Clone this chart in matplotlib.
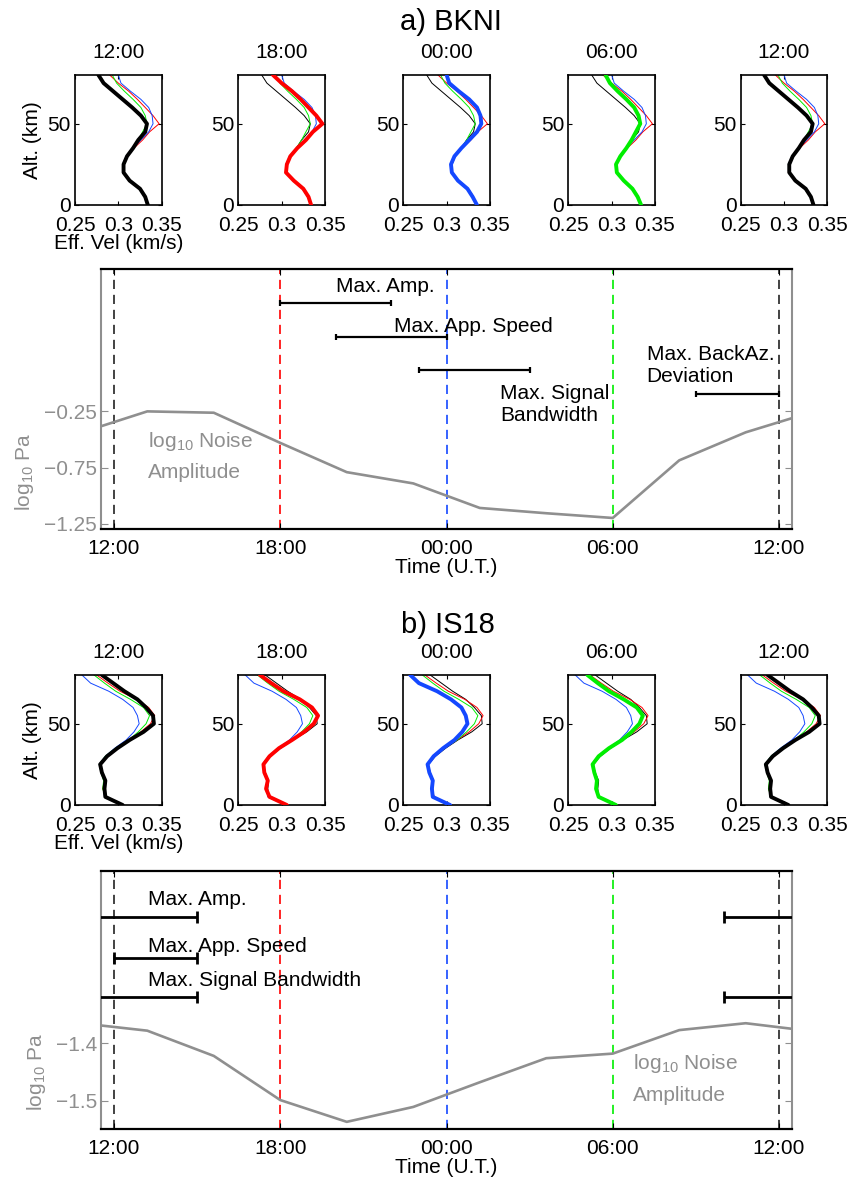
import matplotlib
matplotlib.use('Agg')
import matplotlib.pyplot as plt

plt.rcParams['font.family'] = ['Liberation Sans', 'DejaVu Sans']
plt.rcParams['mathtext.default'] = 'regular'

# ---------------- data ----------------
alt_km = [0, 5, 10, 15, 20, 25, 30, 35, 40, 45, 50, 55, 60, 65, 70, 75, 80]

bkni_12 = [0.334, 0.331, 0.325, 0.313, 0.306, 0.306, 0.310, 0.317, 0.323, 0.331, 0.333, 0.326, 0.316, 0.305, 0.294, 0.283, 0.277]
bkni_18 = [0.334, 0.331, 0.325, 0.314, 0.305, 0.306, 0.310, 0.318, 0.328, 0.336, 0.347, 0.340, 0.331, 0.322, 0.312, 0.300, 0.290]
bkni_00 = [0.335, 0.330, 0.324, 0.313, 0.306, 0.305, 0.309, 0.317, 0.326, 0.335, 0.340, 0.339, 0.335, 0.326, 0.314, 0.303, 0.300]
bkni_06 = [0.334, 0.330, 0.324, 0.314, 0.306, 0.305, 0.310, 0.317, 0.323, 0.328, 0.333, 0.331, 0.326, 0.317, 0.307, 0.298, 0.293]

is18_12 = [0.305, 0.285, 0.284, 0.285, 0.281, 0.279, 0.287, 0.299, 0.313, 0.329, 0.341, 0.340, 0.332, 0.322, 0.307, 0.294, 0.281]
is18_18 = [0.306, 0.286, 0.282, 0.284, 0.280, 0.279, 0.286, 0.297, 0.312, 0.326, 0.337, 0.342, 0.335, 0.321, 0.302, 0.288, 0.275]
is18_00 = [0.304, 0.284, 0.283, 0.284, 0.280, 0.278, 0.285, 0.296, 0.309, 0.318, 0.324, 0.322, 0.317, 0.305, 0.289, 0.268, 0.258]
is18_06 = [0.305, 0.285, 0.282, 0.283, 0.280, 0.278, 0.285, 0.297, 0.312, 0.323, 0.332, 0.336, 0.329, 0.314, 0.297, 0.284, 0.272]

panel_times = ['12:00', '18:00', '00:00', '06:00', '12:00']
panel_highlight = [0, 1, 2, 3, 0]   # index of profile drawn thick

noise_hours = [10.8, 13.2, 15.6, 18.0, 20.4, 22.8, 25.2, 27.6, 30.0, 32.4, 34.8, 37.2]
noise_bkni = [-0.44, -0.25, -0.262, -0.53, -0.79, -0.89, -1.108, -1.155, -1.197, -0.685, -0.436, -0.255]
noise_is18 = [-1.365, -1.378, -1.422, -1.499, -1.537, -1.511, -1.468, -1.426, -1.418, -1.377, -1.365, -1.379]

vline_hours = [12, 18, 24, 30, 36]
xtick_labels = ['12:00', '18:00', '00:00', '06:00', '12:00']

# bars: start hour, end hour, y value
bkni_bar_names = ['Max. Amp.', 'Max. App. Speed', 'Max. Signal Bandwidth', 'Max. BackAz. Deviation']
bkni_bar_start = [18.0, 20.0, 23.0, 33.0]
bkni_bar_end = [22.0, 24.0, 27.0, 36.0]
bkni_bar_y = [0.713, 0.41, 0.114, -0.093]

is18_bar_names = ['Max. Amp.', 'Max. App. Speed', 'Max. Signal Bandwidth']
is18_bar_start = [34.0, 12.0, 34.0]
is18_bar_end = [39.0, 15.0, 39.0]
is18_bar_y = [-1.18, -1.2506, -1.3197]

# ---------------- style ----------------
W, H = 851, 1182
fig = plt.figure(figsize=(W / 100, H / 100), dpi=100)

RED = '#ff0000'
BLUE = '#1448ff'
GREEN = '#00ee00'
BLACK = '#000000'
GRAY = '#8f8f8f'
prof_colors = [BLACK, RED, BLUE, GREEN]
line_colors = ['#222222', RED, BLUE, GREEN, '#222222']
FS = 15


def fx(px):
    return px / W


def fy(py):
    return 1 - py / H


small_lefts = [75, 238.3, 403.3, 568.3, 740.7]
small_w = 86.7


def small_panels(top_px, profiles):
    for i, left in enumerate(small_lefts):
        ax = fig.add_axes([fx(left), fy(top_px + 130), small_w / W, 130 / H])
        for c, prof in zip(prof_colors, profiles):
            ax.plot(prof, alt_km, color=c, lw=0.7, zorder=2)
        k = panel_highlight[i]
        ax.plot(profiles[k], alt_km, color=prof_colors[k], lw=2.8, zorder=3,
                solid_capstyle='round', solid_joinstyle='round')
        ax.set_xlim(0.25, 0.35)
        ax.set_ylim(0, 80)
        ax.set_xticks([0.25, 0.3, 0.35])
        ax.set_xticklabels(['0.25', '0.3', '0.35'])
        ax.set_yticks([0, 50])
        ax.tick_params(direction='in', top=True, right=True, length=3,
                       labelsize=FS, width=0.8)
        ax.tick_params(axis='x', pad=8)
        ax.tick_params(axis='y', pad=3)
        for s in ax.spines.values():
            s.set_linewidth(1.2)
        ax.set_title(panel_times[i], fontsize=FS, pad=12)
        if i == 0:
            ax.set_ylabel('Alt. (km)', fontsize=FS, labelpad=4)
            ax.set_xlabel('Eff. Vel (km/s)', fontsize=FS, labelpad=-1)


def main_panel(top_px, bottom_px, ylim, yticks, yticklabels, noise):
    ax = fig.add_axes([fx(101), fy(bottom_px), 691 / W, (bottom_px - top_px) / H])
    for h, c in zip(vline_hours, line_colors):
        ax.axvline(h, color=c, lw=1.2, ls=(0, (5.5, 3.5)), zorder=1)
    ax.plot(noise_hours, noise, color=GRAY, lw=1.9, zorder=3)
    ax.set_xlim(11.53, 36.47)
    ax.set_ylim(*ylim)
    ax.set_xticks(vline_hours)
    ax.set_xticklabels(xtick_labels)
    ax.set_yticks(yticks)
    ax.set_yticklabels(yticklabels)
    ax.tick_params(axis='x', direction='in', top=True, length=4, labelsize=FS, pad=7,
                   colors=BLACK)
    ax.tick_params(axis='y', direction='in', right=True, length=5, labelsize=FS, pad=3,
                   colors=GRAY, labelcolor=GRAY)
    ax.spines['top'].set_linewidth(1.6)
    ax.spines['bottom'].set_linewidth(1.6)
    ax.spines['left'].set_color(GRAY)
    ax.spines['right'].set_color(GRAY)
    ax.spines['left'].set_linewidth(1.5)
    ax.spines['right'].set_linewidth(1.5)
    ax.set_xlabel('Time (U.T.)', fontsize=FS, labelpad=0)
    return ax


def bar(ax, x0, x1, y, lw, ms):
    ax.plot([x0, x1], [y, y], color=BLACK, lw=lw, zorder=4, solid_capstyle='butt')
    ax.plot([x0, x1], [y, y], ls='none', marker='|', ms=ms, mew=lw, color=BLACK, zorder=4)


# ---- station a ----
fig.text(fx(451), fy(22), 'a) BKNI', fontsize=21, ha='center', va='center')
small_panels(75, [bkni_12, bkni_18, bkni_00, bkni_06])
axa = main_panel(269, 529, (-1.295, 1.015), [-1.25, -0.75, -0.25],
                 ['\u22121.25', '\u22120.75', '\u22120.25'], noise_bkni)
for s, e, y in zip(bkni_bar_start, bkni_bar_end, bkni_bar_y):
    bar(axa, s, e, y, 1.6, 4)
axa.text(20.0, 0.856, 'Max. Amp.', fontsize=FS, va='center', ha='left')
axa.text(22.11, 0.505, 'Max. App. Speed', fontsize=FS, va='center', ha='left')
axa.text(25.93, -0.19, 'Max. Signal\nBandwidth', fontsize=FS, va='center', ha='left',
         linespacing=1.2)
axa.text(31.22, 0.156, 'Max. BackAz.\nDeviation', fontsize=FS, va='center', ha='left',
         linespacing=1.2)
axa.text(13.21, -0.522, 'log$_{10}$ Noise', fontsize=FS, va='center', ha='left', color=GRAY)
axa.text(13.21, -0.79, 'Amplitude', fontsize=FS, va='center', ha='left', color=GRAY)
fig.text(fx(24), fy(472), 'log$_{10}$ Pa', fontsize=FS, rotation=90, ha='center',
         va='center', color=GRAY)

# ---- station b ----
fig.text(fx(448), fy(625), 'b) IS18', fontsize=21, ha='center', va='center')
small_panels(675, [is18_12, is18_18, is18_00, is18_06])
axb = main_panel(870.7, 1129.3, (-1.55, -1.099), [-1.5, -1.4],
                 ['\u22121.5', '\u22121.4'], noise_is18)
for s, e, y in zip(is18_bar_start, is18_bar_end, is18_bar_y):
    bar(axb, s, e, y, 2.0, 9)
    if e > 36.47:   # wraps around the day
        bar(axb, s - 24, e - 24, y, 2.0, 9)
axb.text(13.21, -1.15, 'Max. Amp.', fontsize=FS, va='center', ha='left')
axb.text(13.21, -1.2314, 'Max. App. Speed', fontsize=FS, va='center', ha='left')
axb.text(13.21, -1.2907, 'Max. Signal Bandwidth', fontsize=FS, va='center', ha='left')
axb.text(30.74, -1.435, 'log$_{10}$ Noise', fontsize=FS, va='center', ha='left', color=GRAY)
axb.text(30.74, -1.4915, 'Amplitude', fontsize=FS, va='center', ha='left', color=GRAY)
fig.text(fx(37), fy(1072), 'log$_{10}$ Pa', fontsize=FS, rotation=90, ha='center',
         va='center', color=GRAY)

fig.savefig('out.png', dpi=100)
